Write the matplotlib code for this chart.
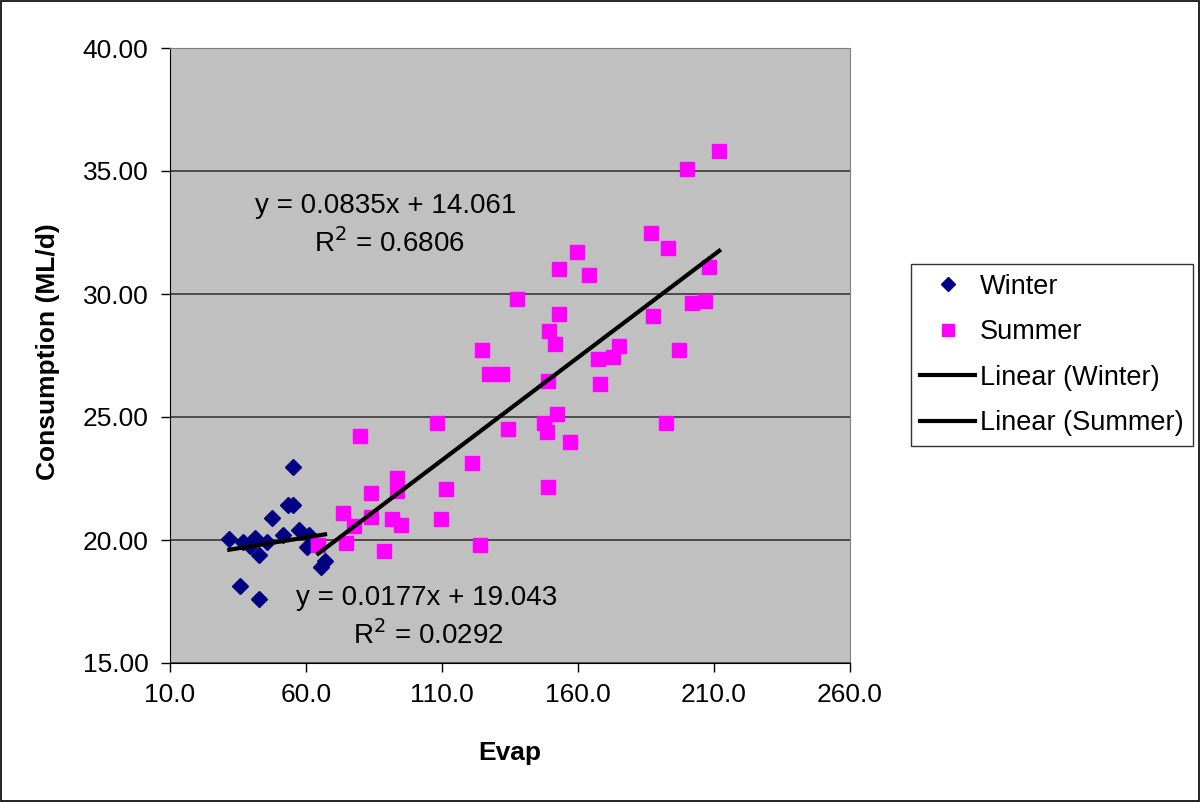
import matplotlib
matplotlib.use("Agg")
import matplotlib.pyplot as plt
from matplotlib.lines import Line2D
from matplotlib.patches import Rectangle
import numpy as np

plt.rcParams['font.family'] = ['Liberation Sans', 'DejaVu Sans']

winter_x = [55.3, 53.2, 55.3, 47.4, 31.8, 37.0, 41.25, 42.8, 45.8, 51.4, 57.5,
            61.2, 60.2, 67.0, 65.5, 35.7, 42.7, 39.4]
winter_y = [22.98, 21.42, 21.42, 20.88, 20.03, 19.93, 20.07, 19.39, 19.93, 20.20, 20.41,
            20.20, 19.73, 19.16, 18.89, 18.13, 17.59, 19.76]

summer_x = [64.5, 73.7, 74.6, 77.8, 80.0, 84.0, 84.0, 88.7, 91.8, 93.3, 93.3, 95.0,
            108.3, 109.8, 111.5, 120.9, 124.1, 124.8, 127.3, 131.9, 134.2, 137.4,
            147.5, 148.5, 149.1, 149.2, 148.9, 151.5, 152.1, 153.1, 153.1, 157.1,
            159.5, 164.1, 167.2, 168.1, 172.7, 175.2, 186.8, 187.7, 193.2, 192.4,
            197.1, 200.2, 201.9, 206.6, 208.2, 211.9]
summer_y = [19.80, 21.11, 19.89, 20.58, 24.24, 21.90, 20.92, 19.54, 20.85, 22.51, 22.00, 20.60,
            24.75, 20.85, 22.06, 23.12, 19.80, 27.72, 26.75, 26.75, 24.50, 29.80,
            24.77, 24.40, 26.48, 28.50, 22.15, 27.98, 25.11, 31.02, 29.19, 23.97,
            31.71, 30.76, 27.37, 26.33, 27.45, 27.89, 32.49, 29.10, 31.88, 24.76,
            27.71, 35.09, 29.63, 29.72, 31.10, 35.80]

winter_fit = (0.0177, 19.043)
summer_fit = (0.0835, 14.061)

x_ticks = [10.0, 60.0, 110.0, 160.0, 210.0, 260.0]
y_ticks = [15.0, 20.0, 25.0, 30.0, 35.0, 40.0]

fig = plt.figure(figsize=(12, 8.02), dpi=100)
fig.patch.set_facecolor('white')
fig.patches.append(Rectangle((0.0008, 0.001), 0.9984, 0.998, transform=fig.transFigure,
                             fill=False, edgecolor='black', linewidth=1.2))

ax = fig.add_axes([170/1200, 1 - 663/802, 680/1200, 615/802])
ax.set_facecolor('#C0C0C0')
ax.set_xlim(10, 260)
ax.set_ylim(15, 40)
ax.set_xticks(x_ticks)
ax.set_yticks(y_ticks)
ax.set_xticklabels([f"{v:.1f}" for v in x_ticks])
ax.set_yticklabels([f"{v:.2f}" for v in y_ticks])
ax.tick_params(axis='both', labelsize=19, direction='out', length=6.5, width=1,
               color='black')
ax.tick_params(axis='y', pad=9)
ax.tick_params(axis='x', pad=8)
ax.yaxis.grid(True, color='#383838', linewidth=1.2)
ax.set_axisbelow(True)
for s in ['top', 'right']:
    ax.spines[s].set_color('#808080')
for s in ['left', 'bottom']:
    ax.spines[s].set_color('black')

ax.plot(winter_x, winter_y, linestyle='none', marker='D', markersize=8.5,
        color='#000080', label='Winter', zorder=3)
ax.plot(summer_x, summer_y, linestyle='none', marker='s', markersize=9.5,
        color='#FF00FF', label='Summer', zorder=3)

wx = np.array([min(winter_x), max(winter_x)])
sx = np.array([min(summer_x), max(summer_x)])
ax.plot(wx, winter_fit[0] * wx + winter_fit[1], color='black', linewidth=3,
        label='Linear (Winter)', zorder=4)
ax.plot(sx, summer_fit[0] * sx + summer_fit[1], color='black', linewidth=3,
        label='Linear (Summer)', zorder=4)

ax.text(386/1200, 1 - 206/802, f"y = {summer_fit[0]}x + {summer_fit[1]}",
        transform=fig.transFigure, ha='center', va='center', fontsize=20)
ax.text(389/1200, 1 - 243/802, "R$^2$ = 0.6806",
        transform=fig.transFigure, ha='center', va='center', fontsize=20)
ax.text(427/1200, 1 - 598/802, f"y = {winter_fit[0]}x + {winter_fit[1]}",
        transform=fig.transFigure, ha='center', va='center', fontsize=20)
ax.text(428/1200, 1 - 635/802, "R$^2$ = 0.0292",
        transform=fig.transFigure, ha='center', va='center', fontsize=20)

ax.set_xlabel('Evap', fontsize=19, fontweight='bold', va='center', ha='center')
ax.xaxis.set_label_coords(0.5, -(753 - 663) / 615)
ax.set_ylabel('Consumption (ML/d)', fontsize=19, fontweight='bold',
              va='center', ha='center')
ax.yaxis.set_label_coords((48 - 170) / 680, (663 - 352) / 615)

handles = [
    Line2D([], [], linestyle='none', marker='D', markersize=7.5, color='#000080'),
    Line2D([], [], linestyle='none', marker='s', markersize=9, color='#FF00FF'),
    Line2D([], [], color='black', linewidth=3),
    Line2D([], [], color='black', linewidth=3),
]
labels = ['Winter', 'Summer', 'Linear (Winter)', 'Linear (Summer)']
leg = fig.legend(handles, labels, loc='center left',
                 bbox_to_anchor=(911/1200, 1 - 355/802), fontsize=19.5,
                 frameon=True, fancybox=False, edgecolor='black',
                 handlelength=2.0, handletextpad=0.2, labelspacing=0.72,
                 borderpad=0.35, borderaxespad=0)
leg.get_frame().set_linewidth(1)

fig.savefig('out.png', dpi=100, facecolor='white')
